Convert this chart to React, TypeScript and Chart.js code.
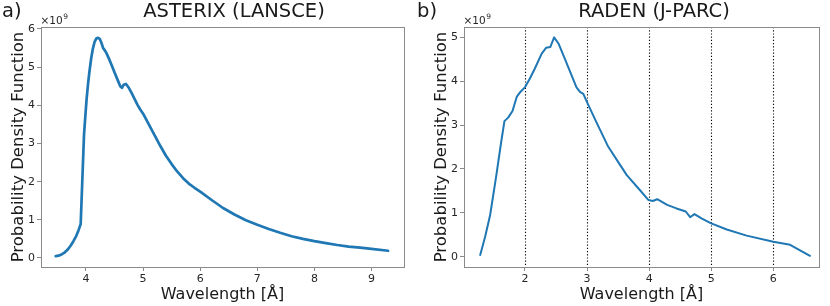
import React, { useEffect, useRef } from "react";
import { Chart, registerables } from "chart.js";

Chart.register(...registerables);

// ---- data (PDF values in units of 1e9) ----
const leftWavelength = [
  3.47, 3.52, 3.58, 3.63, 3.68, 3.73, 3.78, 3.83, 3.87, 3.907, 3.965, 3.99, 4.01, 4.035, 4.06, 4.09,
  4.12, 4.15, 4.18, 4.21, 4.24, 4.27, 4.3, 4.33, 4.36, 4.4, 4.45, 4.5, 4.55, 4.6, 4.63, 4.66, 4.7,
  4.75, 4.8, 4.85, 4.9, 4.95, 5.0, 5.1, 5.2, 5.3, 5.4, 5.5, 5.6, 5.7, 5.8, 5.9, 6.0, 6.2, 6.4, 6.6,
  6.8, 7.0, 7.2, 7.4, 7.6, 7.8, 8.0, 8.2, 8.4, 8.6, 8.8, 9.0, 9.29,
];
const leftPdf = [
  0.05, 0.06, 0.1, 0.15, 0.22, 0.32, 0.44, 0.58, 0.73, 0.89, 3.22, 3.75, 4.15, 4.55, 4.88, 5.22, 5.48,
  5.66, 5.75, 5.77, 5.74, 5.64, 5.5, 5.44, 5.36, 5.23, 5.05, 4.86, 4.68, 4.5, 4.46, 4.54, 4.56, 4.46,
  4.32, 4.17, 4.02, 3.89, 3.78, 3.5, 3.22, 2.94, 2.68, 2.46, 2.26, 2.09, 1.95, 1.84, 1.74, 1.52, 1.31,
  1.14, 0.99, 0.87, 0.76, 0.66, 0.57, 0.5, 0.44, 0.39, 0.34, 0.3, 0.27, 0.24, 0.19,
];
const rightWavelength = [
  1.28, 1.36, 1.44, 1.54, 1.61, 1.67, 1.73, 1.8, 1.87, 1.93, 2.0, 2.08, 2.16, 2.27, 2.34, 2.41, 2.47,
  2.54, 2.64, 2.75, 2.83, 2.89, 2.94, 3.02, 3.16, 3.34, 3.5, 3.64, 3.85, 3.99, 4.06, 4.13, 4.29, 4.44,
  4.59, 4.66, 4.73, 4.85, 5.0, 5.25, 5.57, 6.0, 6.27, 6.59,
];
const rightPdf = [
  0.04, 0.46, 0.95, 1.86, 2.54, 3.09, 3.17, 3.32, 3.65, 3.76, 3.86, 4.06, 4.29, 4.63, 4.76, 4.78, 5.0,
  4.86, 4.52, 4.14, 3.86, 3.75, 3.71, 3.46, 3.04, 2.51, 2.16, 1.86, 1.52, 1.29, 1.27, 1.31, 1.18, 1.1,
  1.03, 0.9, 0.97, 0.87, 0.76, 0.62, 0.48, 0.34, 0.27, 0.02,
];

const leftXTicks = [4, 5, 6, 7, 8, 9];
const leftYTicks = [0, 1, 2, 3, 4, 5, 6];
const rightXTicks = [2, 3, 4, 5, 6];
const rightYTicks = [0, 1, 2, 3, 4, 5];
const rightGridLines = [2, 3, 4, 5, 6];

const FONT = "'DejaVu Sans', 'Liberation Sans', sans-serif";
const LINE_COLOR = "#1f77b4";
const SPINE = "#8a8a8a";
const TEXT = "#1a1a1a";
const TICK_TEXT = "#262626";

type PanelProps = {
  letter: string;
  title: string;
  titleCenter: number;
  xs: number[];
  ys: number[];
  xTicks: number[];
  yTicks: number[];
  xMin: number;
  xMax: number;
  yMin: number;
  yMax: number;
  yAxisWidth: number;
  yTitlePad: number;
  lineWidth: number;
  grid: number[];
};

function Panel(p: PanelProps) {
  const ref = useRef<HTMLCanvasElement | null>(null);
  useEffect(() => {
    if (!ref.current) return;
    const data = p.xs.map((x, i) => ({ x, y: p.ys[i] }));
    const decor = {
      id: "decor",
      beforeDatasetsDraw(chart: any) {
        const { ctx, chartArea } = chart;
        const xs = chart.scales.x;
        ctx.save();
        ctx.strokeStyle = "#000";
        ctx.lineWidth = 1.1;
        ctx.setLineDash([1.2, 2]);
        for (const g of p.grid) {
          const px = Math.round(xs.getPixelForValue(g)) + 0.5;
          ctx.beginPath();
          ctx.moveTo(px, chartArea.top);
          ctx.lineTo(px, chartArea.bottom);
          ctx.stroke();
        }
        ctx.restore();
      },
      afterDraw(chart: any) {
        const { ctx, chartArea } = chart;
        ctx.save();
        ctx.strokeStyle = SPINE;
        ctx.lineWidth = 1;
        ctx.strokeRect(
          Math.round(chartArea.left) + 0.5,
          Math.round(chartArea.top) + 0.5,
          Math.round(chartArea.right - chartArea.left),
          Math.round(chartArea.bottom - chartArea.top)
        );
        ctx.fillStyle = TEXT;
        ctx.textBaseline = "alphabetic";
        ctx.font = `19.5px ${FONT}`;
        ctx.textAlign = "left";
        ctx.fillText(p.letter, 2, 17);
        ctx.textAlign = "center";
        ctx.fillText(p.title, p.titleCenter, 17);
        const ox = Math.round(chartArea.left) - 0.5;
        ctx.textAlign = "left";
        ctx.fillStyle = TICK_TEXT;
        ctx.font = `10.5px ${FONT}`;
        const base = "×10";
        ctx.fillText(base, ox, 24);
        const w = ctx.measureText(base).width;
        ctx.font = `7.5px ${FONT}`;
        ctx.fillText("9", ox + w + 0.5, 19);
        ctx.restore();
      },
    };
    const chart = new Chart(ref.current, {
      type: "line",
      data: {
        datasets: [
          {
            data,
            borderColor: LINE_COLOR,
            borderWidth: p.lineWidth,
            pointRadius: 0,
            fill: false,
            tension: 0,
            borderCapStyle: "round",
            borderJoinStyle: "round",
          },
        ],
      },
      options: {
        responsive: false,
        maintainAspectRatio: false,
        animation: false,
        layout: { padding: { top: 27, right: 11, left: 0, bottom: 0 } },
        plugins: { legend: { display: false }, tooltip: { enabled: false } },
        scales: {
          x: {
            type: "linear",
            min: p.xMin,
            max: p.xMax,
            afterBuildTicks: (s: any) => {
              s.ticks = p.xTicks.map((v) => ({ value: v }));
            },
            afterFit: (s: any) => {
              s.height = 39;
            },
            grid: { drawOnChartArea: false, drawTicks: true, tickLength: 4, tickColor: SPINE, tickWidth: 1 },
            border: { display: false },
            ticks: {
              font: { family: FONT, size: 11 },
              color: TICK_TEXT,
              padding: 2,
              maxRotation: 0,
              autoSkip: false,
              callback: (v: any) => String(v),
            },
            title: {
              display: true,
              text: "Wavelength [Å]",
              font: { family: FONT, size: 16 },
              color: TEXT,
              padding: { top: 0, bottom: 2 },
            },
          },
          y: {
            type: "linear",
            min: p.yMin,
            max: p.yMax,
            afterBuildTicks: (s: any) => {
              s.ticks = p.yTicks.map((v) => ({ value: v }));
            },
            afterFit: (s: any) => {
              s.width = p.yAxisWidth;
            },
            grid: { drawOnChartArea: false, drawTicks: true, tickLength: 4, tickColor: SPINE, tickWidth: 1 },
            border: { display: false },
            ticks: {
              font: { family: FONT, size: 11 },
              color: TICK_TEXT,
              padding: 2,
              autoSkip: false,
              callback: (v: any) => String(v),
            },
            title: {
              display: true,
              text: "Probability Density Function",
              font: { family: FONT, size: 16.5 },
              color: TEXT,
              padding: { top: p.yTitlePad, bottom: 0 },
            },
          },
        },
      },
      plugins: [decor],
    } as any);
    return () => chart.destroy();
  }, []);
  return <canvas ref={ref} width={415} height={306} style={{ display: "block", width: 415, height: 306 }} />;
}

export default function App() {
  return (
    <div style={{ position: "absolute", left: 0, top: 0, width: 830, height: 306, display: "flex", background: "#fff" }}>
      <Panel
        letter="a)"
        title="ASTERIX (LANSCE)"
        titleCenter={234}
        xs={leftWavelength}
        ys={leftPdf}
        xTicks={leftXTicks}
        yTicks={leftYTicks}
        xMin={3.212}
        xMax={9.569}
        yMin={-0.236}
        yMax={6.052}
        yAxisWidth={41}
        yTitlePad={9}
        lineWidth={2.7}
        grid={[]}
      />
      <Panel
        letter="b)"
        title="RADEN (J-PARC)"
        titleCenter={239}
        xs={rightWavelength}
        ys={rightPdf}
        xTicks={rightXTicks}
        yTicks={rightYTicks}
        xMin={1.019}
        xMax={6.735}
        yMin={-0.235}
        yMax={5.235}
        yAxisWidth={49}
        yTitlePad={17}
        lineWidth={2}
        grid={rightGridLines}
      />
    </div>
  );
}
